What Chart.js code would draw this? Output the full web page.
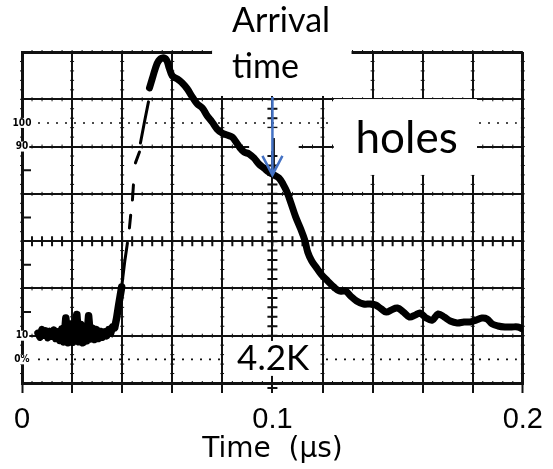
<!DOCTYPE html>
<html>
<head>
<meta charset="utf-8">
<script src="https://cdn.jsdelivr.net/npm/chart.js@4.4.1/dist/chart.umd.min.js"></script>
<style>
  html, body { margin: 0; padding: 0; background: #fff; }
</style>
</head>
<body>
<canvas id="scope" width="553" height="469"></canvas>
<script>
// time axis in μs, signal level in % of the step (graticule marks at 0/10/90/100 %)
const timeTicks = [0, 0.02, 0.04, 0.06, 0.08, 0.1, 0.12, 0.14, 0.16, 0.18, 0.2];
const timeLabels = ['0', '', '', '', '', '0.1', '', '', '', '', '0.2'];
const levelTicks = [-10, 10, 30, 50, 70, 90, 110, 130];
const levelMarks = [100, 90, 10, 0];
const levelMarkLabels = ['100', '90', '10', '0%'];

// noisy baseline before the pulse
const baseTime = [0.0064, 0.0072, 0.0080, 0.0087, 0.0095, 0.0103, 0.0111, 0.0119, 0.0127, 0.0135,
  0.0143, 0.0151, 0.0159, 0.0167, 0.0175, 0.0183, 0.0191, 0.0195, 0.0203, 0.0211, 0.0219, 0.0227,
  0.0235, 0.0243, 0.0250, 0.0258, 0.0266, 0.0274, 0.0282, 0.0290, 0.0298, 0.0306, 0.0314, 0.0322,
  0.0330, 0.0338, 0.0346, 0.0354, 0.0362, 0.0370, 0.0378, 0.0386, 0.0398];
const baseLevel = [11.1, 9.4, 12.6, 10.2, 12.0, 9.2, 11.8, 9.8, 12.4, 8.8,
  11.6, 8.0, 12.8, 7.4, 17.5, 7.0, 8.0, 15.0, 7.2, 13.5, 19.0, 7.4,
  14.8, 7.0, 12.0, 7.8, 18.4, 8.6, 13.2, 8.4, 12.6, 8.8, 11.8, 9.4,
  11.6, 10.0, 12.6, 11.1, 13.8, 13.3, 17.5, 23.0, 30.6];

// fast leading edge, faint and broken on the screen
const riseTime = [0.0398, 0.0410, 0.0421, 0.0425, 0.0429, 0.0434, 0.0437, 0.0441, 0.0445, 0.0449,
  0.0453, 0.0469, 0.0471, 0.0473, 0.0489, 0.0505];
const riseLevel = [30.6, 41.2, 49.2, null, 55.6, 61.0, null, 67.4, 73.8, null,
  83.1, 87.7, null, 91.5, 100.4, 108.9];

// hole signal: peak, drift down to the arrival time, then the tail
const pulseTime = [0.0509, 0.0521, 0.0533, 0.0545, 0.0561, 0.0577, 0.0588, 0.0600, 0.0620, 0.0640,
  0.0660, 0.0680, 0.0700, 0.0720, 0.0740, 0.0759, 0.0779, 0.0799, 0.0819, 0.0839, 0.0855, 0.0871,
  0.0887, 0.0907, 0.0926, 0.0946, 0.0966, 0.0986, 0.1006, 0.1026, 0.1042, 0.1058, 0.1074, 0.1093,
  0.1113, 0.1129, 0.1141, 0.1157, 0.1177, 0.1197, 0.1221, 0.1245, 0.1268, 0.1292, 0.1312, 0.1336,
  0.1364, 0.1392, 0.1412, 0.1435, 0.1455, 0.1475, 0.1499, 0.1523, 0.1547, 0.1571, 0.1590, 0.1614,
  0.1638, 0.1662, 0.1686, 0.1710, 0.1738, 0.1765, 0.1789, 0.1813, 0.1837, 0.1857, 0.1877, 0.1901,
  0.1928, 0.1956, 0.1980, 0.2000];
const pulseLevel = [114.8, 119.0, 123.2, 126.2, 127.5, 126.6, 123.2, 119.9, 118.6, 116.9,
  114.4, 111.0, 108.0, 106.3, 102.9, 100.4, 97.4, 95.7, 94.9, 94.0, 91.9, 89.4,
  87.7, 86.9, 85.2, 82.6, 80.9, 79.2, 78.0, 76.7, 74.2, 70.8, 66.1, 60.2,
  55.1, 50.5, 45.4, 41.6, 38.6, 35.7, 33.1, 30.6, 28.9, 28.9, 26.8, 24.7,
  23.4, 23.4, 23.0, 21.3, 20.0, 20.9, 21.7, 20.0, 17.9, 18.8, 19.6, 17.5,
  16.6, 19.2, 17.9, 16.2, 15.4, 15.8, 15.8, 16.6, 17.5, 17.1, 15.0, 14.1,
  13.7, 13.7, 13.7, 12.8];

const arrivalTime = 0.1;

const toXY = (ts, ls) => ts.map((t, i) => ({ x: t, y: ls[i] }));

// graticule details, white cut-outs and the added labels
const scopeDecor = {
  id: 'scopeDecor',
  beforeDatasetsDraw(chart) {
    const { ctx, chartArea: a, scales: { x, y } } = chart;
    const X = v => x.getPixelForValue(v), Y = v => y.getPixelForValue(v);
    ctx.save();
    ctx.strokeStyle = '#111';

    // little beads along every graticule line
    ctx.lineWidth = 1;
    ctx.beginPath();
    for (let t = 0.004; t < 0.2; t += 0.004) {
      for (const p of levelTicks) { ctx.moveTo(X(t), Y(p) - 2); ctx.lineTo(X(t), Y(p) + 2); }
    }
    for (let p = -6; p < 130; p += 4) {
      for (const t of timeTicks) { ctx.moveTo(X(t) - 2, Y(p)); ctx.lineTo(X(t) + 2, Y(p)); }
    }
    ctx.stroke();

    // cross ticks on the centre lines, half-division ticks on the left edge
    ctx.lineWidth = 2;
    ctx.beginPath();
    for (let t = 0.004; t < 0.2; t += 0.004) { ctx.moveTo(X(t), Y(50) - 5); ctx.lineTo(X(t), Y(50) + 5); }
    for (let p = -6; p < 130; p += 4) { ctx.moveTo(X(arrivalTime) - 5, Y(p)); ctx.lineTo(X(arrivalTime) + 5, Y(p)); }
    for (const p of [20, 40, 60, 80]) { ctx.moveTo(a.left, Y(p)); ctx.lineTo(a.left + 9, Y(p)); }
    ctx.moveTo(X(arrivalTime) - 5, a.bottom + 5); ctx.lineTo(X(arrivalTime) + 5, a.bottom + 5);
    ctx.stroke();

    // dotted 0 % and 100 % lines
    ctx.lineWidth = 1.6;
    ctx.setLineDash([2, 7]);
    ctx.beginPath();
    for (const p of [0, 100]) { ctx.moveTo(a.left + 16, Y(p)); ctx.lineTo(a.right - 6, Y(p)); }
    ctx.stroke();
    ctx.setLineDash([]);

    // percentage marks printed on the left edge
    ctx.font = 'bold 10px "DejaVu Sans Condensed", "DejaVu Sans"';
    ctx.textAlign = 'center';
    ctx.textBaseline = 'middle';
    levelMarks.forEach((p, i) => {
      const w = ctx.measureText(levelMarkLabels[i]).width;
      ctx.fillStyle = '#fff';
      ctx.fillRect(a.left - w / 2 - 1, Y(p) - 5, w + 2, 10);
      ctx.fillStyle = '#000';
      ctx.fillText(levelMarkLabels[i], a.left, Y(p));
    });

    // white cut-outs pasted over the graticule
    ctx.fillStyle = '#fff';
    for (const [t0, t1, p0, p1] of [
      [0.0759, 0.1316, 152, 111.4],
      [0.1245, 0.1817, 110.1, 78],
      [0.0907, 0.1105, 97.8, 88.1],
      [0.0807, 0.1189, 7.8, -7]
    ]) {
      ctx.fillRect(X(t0), Y(p0), X(t1) - X(t0), Y(p1) - Y(p0));
    }
    ctx.restore();
  },
  afterDatasetsDraw(chart) {
    const { ctx, scales: { x, y } } = chart;
    const X = v => x.getPixelForValue(v), Y = v => y.getPixelForValue(v);
    ctx.save();

    // original marker stem under the blue arrow
    ctx.strokeStyle = '#111';
    ctx.lineWidth = 3;
    ctx.beginPath();
    ctx.moveTo(X(arrivalTime) + 1, Y(93.6));
    ctx.lineTo(X(arrivalTime) + 1, Y(80));
    ctx.stroke();

    // arrival time arrow
    const ax = X(arrivalTime), tip = Y(78);
    ctx.strokeStyle = '#4472C4';
    ctx.lineWidth = 2.5;
    ctx.beginPath();
    ctx.moveTo(ax, Y(111));
    ctx.lineTo(ax, tip);
    ctx.moveTo(ax - 10, tip - 19);
    ctx.lineTo(ax, tip);
    ctx.lineTo(ax + 10, tip - 19);
    ctx.stroke();

    ctx.fillStyle = '#000';
    ctx.textAlign = 'left';
    ctx.textBaseline = 'alphabetic';
    ctx.font = '34px Lato';
    ctx.fillText('Arrival', X(0.0839), Y(138.5));
    ctx.fillText('time', X(0.0839), Y(119));
    ctx.font = '44px Lato';
    ctx.fillText('holes', X(0.1332), Y(87.3));
    ctx.font = '35px Lato';
    ctx.fillText('4.2K', X(0.0859), Y(-4.5));
    ctx.restore();
  }
};

const edgeWidth = last => c => (c.index === 0 || c.index === last) ? 3 : 2;

new Chart(document.getElementById('scope'), {
  type: 'line',
  data: {
    datasets: [
      {
        data: toXY(baseTime, baseLevel),
        borderColor: '#000',
        borderWidth: 7.5,
        tension: 0,
        pointRadius: 0,
        borderCapStyle: 'round',
        borderJoinStyle: 'round'
      },
      {
        data: toXY(riseTime, riseLevel),
        borderColor: '#000',
        borderWidth: 3,
        tension: 0,
        pointRadius: 0,
        spanGaps: false,
        borderCapStyle: 'round'
      },
      {
        data: toXY(pulseTime, pulseLevel),
        borderColor: '#000',
        borderWidth: 7,
        tension: 0.35,
        pointRadius: 0,
        borderCapStyle: 'round',
        borderJoinStyle: 'round'
      }
    ]
  },
  options: {
    responsive: false,
    animation: false,
    devicePixelRatio: 1,
    layout: { padding: { left: 22, right: 28, top: 52, bottom: 0 } },
    plugins: { legend: { display: false }, tooltip: { enabled: false } },
    scales: {
      x: {
        type: 'linear',
        min: 0,
        max: 0.2,
        afterBuildTicks: s => { s.ticks = timeTicks.map(v => ({ value: v })); },
        afterFit: s => { s.height = 86; },
        ticks: {
          autoSkip: false,
          maxRotation: 0,
          padding: 10,
          color: '#000',
          font: { family: '"Liberation Sans", Arial', size: 29 },
          callback: (v, i) => timeLabels[i]
        },
        grid: { color: '#111', lineWidth: edgeWidth(10), tickLength: 10, tickColor: '#111', tickWidth: 2 },
        border: { color: '#111', width: 3 },
        title: {
          display: true,
          text: 'Time  (μs)',
          color: '#000',
          font: { family: '"DejaVu Sans"', size: 28, lineHeight: 1 },
          padding: { top: 0, bottom: 5 }
        }
      },
      y: {
        min: -10,
        max: 130,
        afterBuildTicks: s => { s.ticks = levelTicks.map(v => ({ value: v })); },
        afterFit: s => { s.width = 0; },
        ticks: { display: false },
        grid: { color: '#111', lineWidth: edgeWidth(7), drawTicks: false },
        border: { color: '#111', width: 3 }
      }
    }
  },
  plugins: [scopeDecor]
});
</script>
</body>
</html>
